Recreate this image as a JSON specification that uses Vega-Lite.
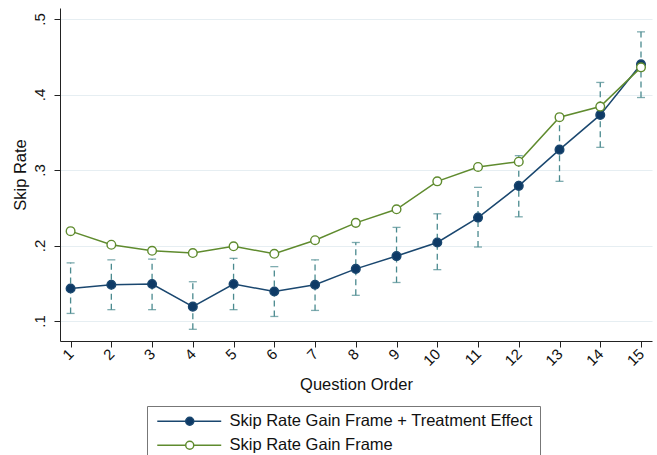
{
  "$schema": "https://vega.github.io/schema/vega-lite/v6.json",
  "width": 592,
  "height": 333,
  "autosize": {"type": "none"},
  "padding": {"left": 60, "top": 8, "right": 5, "bottom": 114},
  "background": "white",
  "config": {
    "view": {"stroke": null},
    "font": "Liberation Sans",
    "axis": {
      "domainColor": "#222222",
      "tickColor": "#222222",
      "labelColor": "#111111",
      "titleColor": "#111111",
      "labelFont": "Liberation Sans",
      "titleFont": "Liberation Sans",
      "titleFontWeight": "normal",
      "labelFontSize": 15,
      "titleFontSize": 16.5,
      "tickSize": 6,
      "gridColor": "#e6eef2",
      "gridWidth": 1.2
    },
    "legend": {
      "labelFont": "Liberation Sans",
      "labelFontSize": 16.5,
      "labelColor": "#111111"
    }
  },
  "data": {
    "values": [
      {"series": "Skip Rate Gain Frame + Treatment Effect", "q": 1, "rate": 0.143, "lo": 0.110, "hi": 0.177},
      {"series": "Skip Rate Gain Frame + Treatment Effect", "q": 2, "rate": 0.148, "lo": 0.115, "hi": 0.181},
      {"series": "Skip Rate Gain Frame + Treatment Effect", "q": 3, "rate": 0.149, "lo": 0.115, "hi": 0.182},
      {"series": "Skip Rate Gain Frame + Treatment Effect", "q": 4, "rate": 0.119, "lo": 0.089, "hi": 0.152},
      {"series": "Skip Rate Gain Frame + Treatment Effect", "q": 5, "rate": 0.149, "lo": 0.115, "hi": 0.183},
      {"series": "Skip Rate Gain Frame + Treatment Effect", "q": 6, "rate": 0.139, "lo": 0.106, "hi": 0.172},
      {"series": "Skip Rate Gain Frame + Treatment Effect", "q": 7, "rate": 0.148, "lo": 0.114, "hi": 0.181},
      {"series": "Skip Rate Gain Frame + Treatment Effect", "q": 8, "rate": 0.169, "lo": 0.134, "hi": 0.204},
      {"series": "Skip Rate Gain Frame + Treatment Effect", "q": 9, "rate": 0.186, "lo": 0.151, "hi": 0.224},
      {"series": "Skip Rate Gain Frame + Treatment Effect", "q": 10, "rate": 0.204, "lo": 0.168, "hi": 0.242},
      {"series": "Skip Rate Gain Frame + Treatment Effect", "q": 11, "rate": 0.237, "lo": 0.198, "hi": 0.277},
      {"series": "Skip Rate Gain Frame + Treatment Effect", "q": 12, "rate": 0.279, "lo": 0.238, "hi": 0.319},
      {"series": "Skip Rate Gain Frame + Treatment Effect", "q": 13, "rate": 0.327, "lo": 0.285, "hi": 0.368},
      {"series": "Skip Rate Gain Frame + Treatment Effect", "q": 14, "rate": 0.373, "lo": 0.330, "hi": 0.416},
      {"series": "Skip Rate Gain Frame + Treatment Effect", "q": 15, "rate": 0.440, "lo": 0.396, "hi": 0.483},
      {"series": "Skip Rate Gain Frame", "q": 1, "rate": 0.219},
      {"series": "Skip Rate Gain Frame", "q": 2, "rate": 0.201},
      {"series": "Skip Rate Gain Frame", "q": 3, "rate": 0.193},
      {"series": "Skip Rate Gain Frame", "q": 4, "rate": 0.190},
      {"series": "Skip Rate Gain Frame", "q": 5, "rate": 0.199},
      {"series": "Skip Rate Gain Frame", "q": 6, "rate": 0.189},
      {"series": "Skip Rate Gain Frame", "q": 7, "rate": 0.207},
      {"series": "Skip Rate Gain Frame", "q": 8, "rate": 0.230},
      {"series": "Skip Rate Gain Frame", "q": 9, "rate": 0.248},
      {"series": "Skip Rate Gain Frame", "q": 10, "rate": 0.285},
      {"series": "Skip Rate Gain Frame", "q": 11, "rate": 0.304},
      {"series": "Skip Rate Gain Frame", "q": 12, "rate": 0.311},
      {"series": "Skip Rate Gain Frame", "q": 13, "rate": 0.370},
      {"series": "Skip Rate Gain Frame", "q": 14, "rate": 0.384},
      {"series": "Skip Rate Gain Frame", "q": 15, "rate": 0.436}
    ]
  },
  "encoding": {
    "x": {
      "field": "q",
      "type": "quantitative",
      "scale": {"domain": [0.74, 15.27], "nice": false, "zero": false},
      "axis": {
        "values": [1, 2, 3, 4, 5, 6, 7, 8, 9, 10, 11, 12, 13, 14, 15],
        "title": "Question Order",
        "labelAngle": -45,
        "labelAlign": "right",
        "labelBaseline": "middle",
        "labelPadding": 4,
        "titlePadding": 8,
        "grid": false
      }
    },
    "y": {
      "field": "rate",
      "type": "quantitative",
      "scale": {"domain": [0.0735, 0.5146], "nice": false, "zero": false},
      "axis": {
        "values": [0.1, 0.2, 0.3, 0.4, 0.5],
        "title": "Skip Rate",
        "labelExpr": "slice(format(datum.value, '.1f'), 1)",
        "labelAngle": -90,
        "labelAlign": "center",
        "labelBaseline": "bottom",
        "labelPadding": 7,
        "titlePadding": 4,
        "grid": true
      }
    }
  },
  "layer": [
    {
      "transform": [{"filter": "isValid(datum.lo)"}],
      "mark": {"type": "rule", "color": "#4a8a8f", "strokeWidth": 1.3, "strokeDash": [6, 4]},
      "encoding": {
        "y": {"field": "lo", "type": "quantitative", "title": "Skip Rate"},
        "y2": {"field": "hi"}
      }
    },
    {
      "transform": [{"filter": "isValid(datum.lo)"}],
      "mark": {"type": "point", "shape": "M-1,0L1,0", "size": 64, "stroke": "#4a8a8f", "strokeWidth": 1.3, "filled": false},
      "encoding": {
        "y": {"field": "lo", "type": "quantitative", "title": "Skip Rate"}
      }
    },
    {
      "transform": [{"filter": "isValid(datum.lo)"}],
      "mark": {"type": "point", "shape": "M-1,0L1,0", "size": 64, "stroke": "#4a8a8f", "strokeWidth": 1.3, "filled": false},
      "encoding": {
        "y": {"field": "hi", "type": "quantitative", "title": "Skip Rate"}
      }
    },
    {
      "mark": {"type": "line", "strokeWidth": 1.5},
      "encoding": {
        "stroke": {
          "field": "series",
          "type": "nominal",
          "scale": {
            "domain": ["Skip Rate Gain Frame + Treatment Effect", "Skip Rate Gain Frame"],
            "range": ["#1a476f", "#5f8b2e"]
          },
          "legend": {
            "title": null,
            "orient": "none",
            "legendX": 87,
            "legendY": 398,
            "direction": "vertical",
            "symbolType": "M-0.83,0L3.91,0M5.25,0L9.83,0M3.91,0A0.67,0.67 0 1 1 5.25,0A0.67,0.67 0 1 1 3.91,0Z",
            "symbolSize": 144,
            "symbolStrokeWidth": 1.5,
            "labelOffset": 59,
            "labelLimit": 500,
            "rowPadding": 7,
            "strokeColor": "#777777",
            "padding": 7
          }
        }
      }
    },
    {
      "mark": {"type": "point", "shape": "circle", "size": 75, "strokeWidth": 1.4, "opacity": 1},
      "encoding": {
        "stroke": {"field": "series", "type": "nominal"},
        "fill": {
          "field": "series",
          "type": "nominal",
          "scale": {
            "domain": ["Skip Rate Gain Frame + Treatment Effect", "Skip Rate Gain Frame"],
            "range": ["#0e3a66", "#ffffff"]
          },
          "legend": {
            "title": null,
            "orient": "none",
            "legendX": 87,
            "legendY": 398,
            "direction": "vertical",
            "symbolType": "M-0.83,0L3.91,0M5.25,0L9.83,0M3.91,0A0.67,0.67 0 1 1 5.25,0A0.67,0.67 0 1 1 3.91,0Z",
            "symbolSize": 144,
            "symbolStrokeWidth": 1.5,
            "labelOffset": 59,
            "labelLimit": 500,
            "rowPadding": 7,
            "strokeColor": "#777777",
            "padding": 7
          }
        }
      }
    }
  ]
}
